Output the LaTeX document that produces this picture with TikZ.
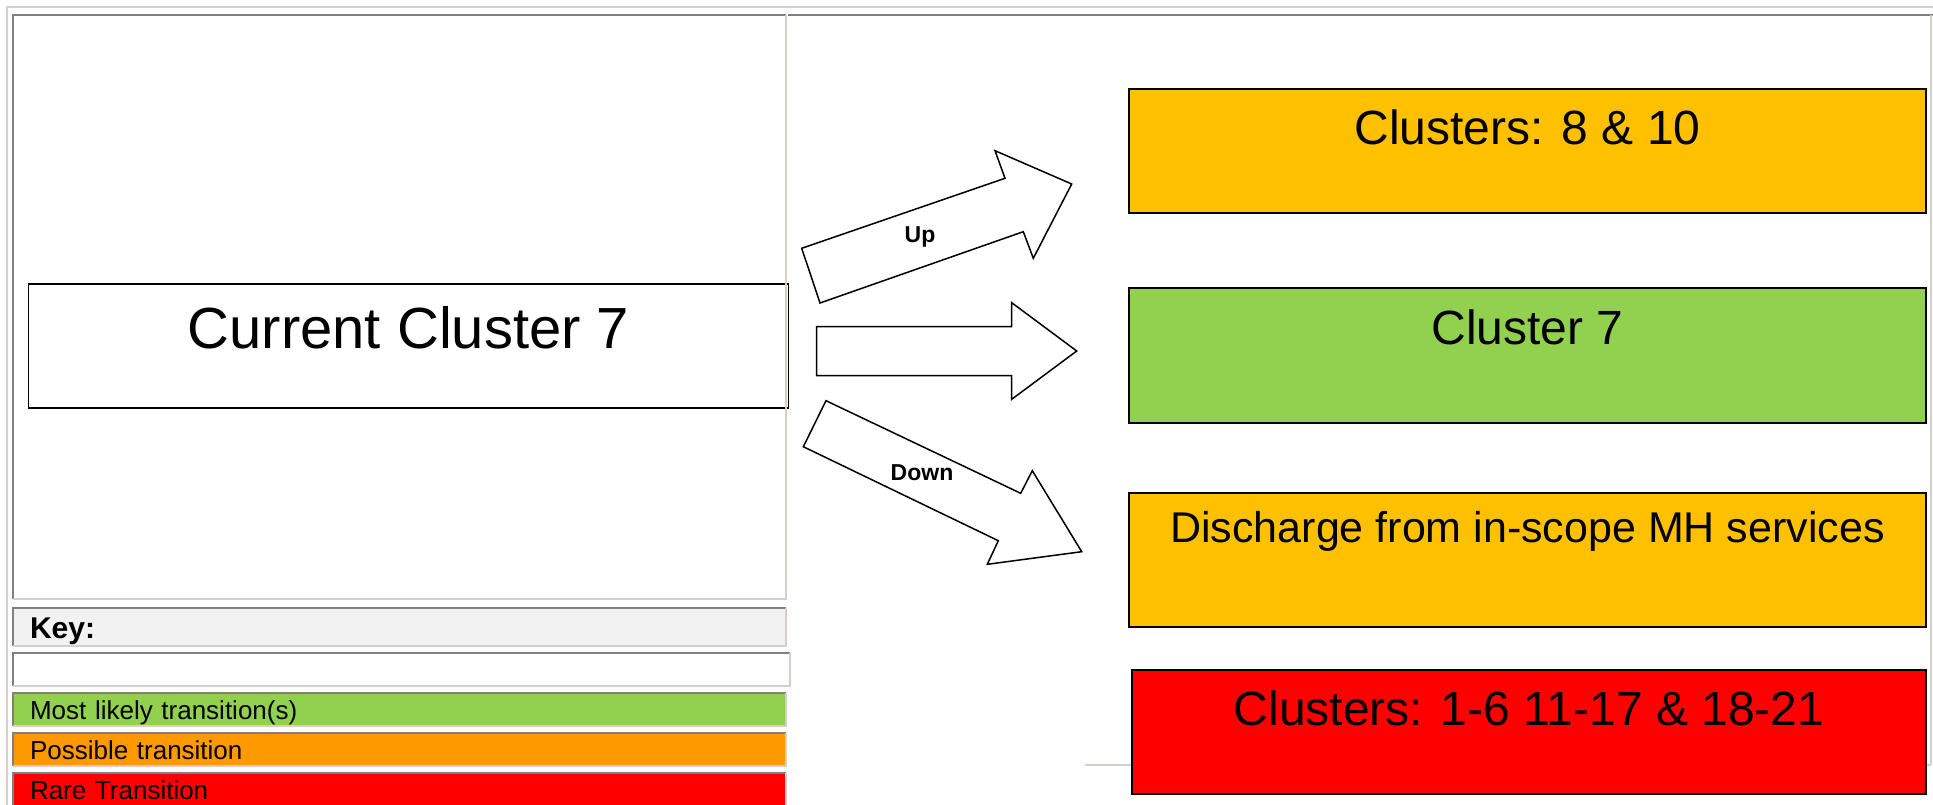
\documentclass[tikz,border=0pt]{standalone}
\usepackage{fontspec}
\setmainfont{Liberation Sans}
\usetikzlibrary{positioning}

\definecolor{edgedark}{HTML}{808080}
\definecolor{edgelight}{HTML}{D4D0C8}
\definecolor{keygrey}{HTML}{F2F2F2}
\definecolor{leafgreen}{HTML}{92D050}
\definecolor{amber}{HTML}{FFC000}
\definecolor{legendorange}{HTML}{FF9900}

\begin{document}
\begin{tikzpicture}[
        x=1pt, y=-1pt,                % one unit per pixel of the layout
        darkedge/.style={draw=edgedark, line width=2pt},
        lightedge/.style={draw=edgelight, line width=2pt},
        panel/.style={inner sep=0pt, outer sep=0pt},
        legendrow/.style={
            panel,
            minimum width=773pt,
            minimum height=33pt,
            text width=739pt,
            inner xsep=17pt,          % text starts a little in from the edge
            align=left,
            text height=19pt,
            text depth=0pt,
            font=\fontsize{26}{30}\selectfont
        },
        clusterbox/.style={
            draw=black,
            line width=1.5pt,
            minimum width=797pt,
            inner ysep=0pt,           % text height/depth set the box height
            font=\fontsize{48}{56}\selectfont
        },
        blockarrow/.style={draw=black, fill=white, line width=1.5pt, line join=miter},
        arrowlabel/.style={font=\bfseries\fontsize{23}{27}\selectfont}
    ]
        \useasboundingbox (0,0) rectangle (1933,805);
        \fill[white] (0,0) rectangle (1933,805);

        % frame
        \draw[lightedge] (7,805) -- (7,7) -- (1933,7);
        \node[panel, minimum width=773pt, minimum height=584pt] (leftpanel) at (399.5,307) {};
        \draw[darkedge] (788,15) -- (1933,15);
        \draw[lightedge] (1931,15) -- (1931,765);
        \draw[lightedge] (1085,765) -- (1931,765);

        % current cluster
        \node[clusterbox, fill=white, minimum width=760pt, text height=64pt, text depth=60pt,
              font=\fontsize{58}{66}\selectfont] (current) at (408.5,346) {Current Cluster 7};

        % transitions
        \draw[blockarrow] (801.7,248.3) -- (1005,178.3) -- (995,150.7) -- (1071.7,184)
            -- (1033.3,258.3) -- (1023.3,231.7) -- (820,303) -- cycle;
        \draw[blockarrow] (816.7,326.7) -- (1011.7,326.7) -- (1011.7,302.7) -- (1076.7,351)
            -- (1011.7,399.3) -- (1011.7,375.7) -- (816.7,375.7) -- cycle;
        \draw[blockarrow] (826,400.7) -- (1020.7,493.3) -- (1032.3,470.7) -- (1081.7,551.7)
            -- (987.3,564.3) -- (998.3,540.7) -- (803.3,446.7) -- cycle;
        \node[arrowlabel] (uplabel) at (920,237) {Up};
        \node[arrowlabel] (downlabel) at (922,473) {Down};

        % target clusters
        \node[clusterbox, fill=amber, text height=56pt, text depth=68pt] (upbox) at (1527.5,151) {Clusters: 8 \& 10};
        \node[clusterbox, fill=leafgreen, text height=56pt, text depth=79pt] (samebox) at (1527.5,355.5) {Cluster 7};
        \node[clusterbox, fill=amber, text height=49pt, text depth=85pt,
              font=\fontsize{43}{50}\selectfont] (dischargebox) at (1527.5,560) {Discharge from in-scope MH services};
        \node[clusterbox, fill=red, minimum width=794pt, text height=55pt, text depth=69pt] (rarebox) at (1529,732) {Clusters: 1-6 11-17 \& 18-21};

        % key
        \node[legendrow, fill=keygrey, minimum height=38pt, text height=22pt,
              font=\bfseries\fontsize{30}{34}\selectfont] (keyrow) at (399.5,627) {Key:};
        \node[legendrow, fill=white, minimum width=777pt, text width=743pt,
              below=7pt of keyrow.south west, anchor=north west] (blankrow) {};
        \node[legendrow, fill=leafgreen, below=7pt of blankrow.south west, anchor=north west] (greenrow) {Most likely transition(s)};
        \node[legendrow, fill=legendorange, below=7pt of greenrow.south west, anchor=north west] (orangerow) {Possible transition};
        \node[legendrow, fill=red, below=7pt of orangerow.south west, anchor=north west] (redrow) {Rare Transition};

        % sunken borders
        \foreach \n in {leftpanel,keyrow,blankrow,greenrow,orangerow,redrow} {
            \draw[darkedge] (\n.south west) |- (\n.north east);
            \draw[lightedge] (\n.north east) |- (\n.south west);
        }
    \end{tikzpicture}
\end{document}
